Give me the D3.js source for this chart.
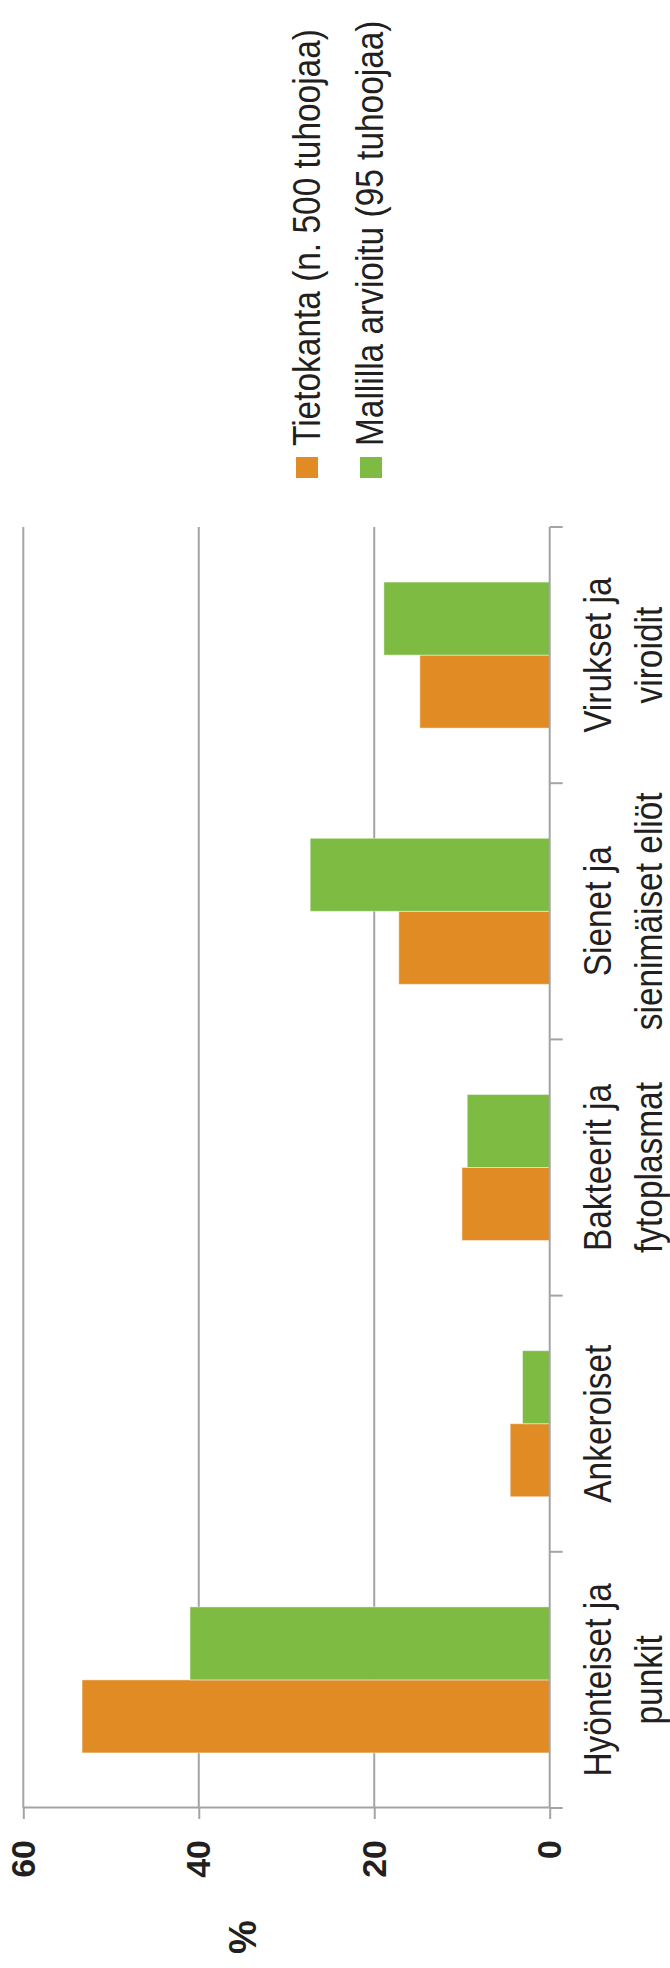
<!DOCTYPE html>
<html>
<head>
<meta charset="utf-8">
<script src="https://cdn.jsdelivr.net/npm/d3@7"></script>
<style>
  html, body { margin: 0; padding: 0; background: #fff; }
  svg { display: block; }
  text { font-family: "Liberation Sans", Arial, "DejaVu Sans", sans-serif; fill: #231f20; }
</style>
</head>
<body>
<div id="chart"></div>
<script>
// ---- data ----
const categories = ["Hyönteiset ja punkit", "Ankeroiset", "Bakteerit ja fytoplasmat", "Sienet ja sienimäiset eliöt", "Virukset ja viroidit"];
const categoryLines = [["Hyönteiset ja", "punkit"], ["Ankeroiset"], ["Bakteerit ja", "fytoplasmat"], ["Sienet ja", "sienimäiset eliöt"], ["Virukset ja", "viroidit"]];
const seriesNames = ["Tietokanta (n. 500 tuhoojaa)", "Mallilla arvioitu (95 tuhoojaa)"];
const tietokanta = [53.3, 4.5, 10.0, 17.2, 14.8];
const mallilla = [41.0, 3.1, 9.4, 27.3, 18.9];
const yTicks = [0, 20, 40, 60];
const yLabel = "%";
const colors = ["#E08B24", "#7DBB42"];

// ---- layout (chart drawn in original orientation, then rotated -90°) ----
const W = 670, H = 1968;
const svg = d3.select("#chart").append("svg").attr("width", W).attr("height", H);
const g = svg.append("g").attr("transform", `translate(0,${H}) rotate(-90)`);

const x = d3.scaleBand().domain(categories).range([160, 1441]).padding(0);
const y = d3.scaleLinear().domain([0, 60]).range([549.7, 23.3]);
const bw = x.bandwidth();
const x1 = d3.scaleBand().domain(seriesNames).range([bw * 0.215, bw * 0.785]).padding(0);

const gridColor = "#a4a4a8";

// gridlines
g.append("g").selectAll("line").data(yTicks.filter(v => v !== 0)).join("line")
  .attr("x1", 160).attr("x2", 1441)
  .attr("y1", d => y(d)).attr("y2", d => y(d))
  .attr("stroke", gridColor).attr("stroke-width", 2);

// bars
const data = categories.map((c, i) => ({ cat: c, vals: [tietokanta[i], mallilla[i]] }));
const groups = g.append("g").selectAll("g").data(data).join("g")
  .attr("transform", d => `translate(${x(d.cat)},0)`);
groups.selectAll("rect").data(d => d.vals.map((v, k) => ({ v, s: seriesNames[k], k }))).join("rect")
  .attr("x", d => x1(d.s))
  .attr("width", x1.bandwidth())
  .attr("y", d => y(d.v))
  .attr("height", d => y(0) - y(d.v))
  .attr("fill", d => colors[d.k])
  .attr("stroke", "#ffffff").attr("stroke-opacity", 0.45).attr("stroke-width", 1);

// value axis
const yAxis = g.append("g").attr("transform", "translate(160,0)")
  .call(d3.axisLeft(y).tickValues(yTicks).tickSize(11).tickSizeOuter(0).tickPadding(21));
yAxis.select(".domain").attr("stroke", gridColor).attr("stroke-width", 2);
yAxis.selectAll(".tick line").attr("stroke", gridColor).attr("stroke-width", 2);
yAxis.selectAll(".tick text").attr("font-size", 34).attr("font-weight", "bold")
  .attr("font-family", "'Liberation Sans', Arial, sans-serif").attr("fill", "#231f20");

// category axis
g.append("line").attr("x1", 160).attr("x2", 1441).attr("y1", y(0)).attr("y2", y(0))
  .attr("stroke", gridColor).attr("stroke-width", 2);
const bounds = categories.map(c => x(c)).concat([x(categories[categories.length - 1]) + bw]);
g.append("g").selectAll("line").data(bounds).join("line")
  .attr("x1", d => d).attr("x2", d => d)
  .attr("y1", y(0)).attr("y2", y(0) + 13)
  .attr("stroke", gridColor).attr("stroke-width", 2);

// category labels
const lab = g.append("g").selectAll("text").data(categories).join("text")
  .attr("transform", c => `translate(${x(c) + bw / 2},0) scale(0.88,1)`)
  .attr("text-anchor", "middle").attr("font-size", 38);
lab.each(function(c, i) {
  d3.select(this).selectAll("tspan").data(categoryLines[i]).join("tspan")
    .attr("x", 0).attr("y", (d, j) => 611 + j * 51).text(d => d);
});

// axis title
g.append("text").attr("x", 31).attr("y", 256).attr("text-anchor", "middle")
  .attr("font-size", 38).attr("font-weight", "bold").text(yLabel);

// legend
const leg = g.append("g").selectAll("g").data(seriesNames).join("g");
leg.append("rect").attr("x", 1490).attr("width", 21)
  .attr("y", (d, i) => 296 + i * 64).attr("height", 22)
  .attr("fill", (d, i) => colors[i]);
leg.append("text")
  .attr("transform", (d, i) => `translate(1522,${320 + i * 63}) scale(0.88,1)`)
  .attr("font-size", 38).text(d => d);
</script>
</body>
</html>
